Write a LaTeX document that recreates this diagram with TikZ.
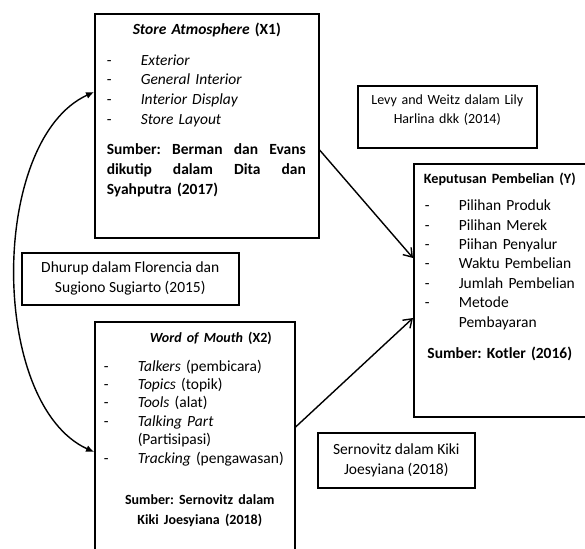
\documentclass[tikz,border=0pt]{standalone}
\usepackage{fontspec}
\setmainfont{Carlito}
\usetikzlibrary{positioning, arrows.meta}
\setlength{\parindent}{0pt}
\frenchspacing
\newcommand{\dashitem}[1]{\makebox[17pt][l]{-}\mbox{#1}\par}
\newcommand{\moreline}[1]{\hspace*{17pt}\mbox{#1}\par}
\newcommand{\boxtitle}[1]{\makebox[\hsize][c]{#1}\par}

\begin{document}
\begin{tikzpicture}[x=.5pt, y=-.5pt,
    box/.style={draw, line width=.8pt, anchor=north west, align=left, inner xsep=5.5pt, inner ysep=4.5pt, text height=6pt, font=\fontsize{7.75}{9.5}\selectfont},
    refbox/.style={draw, line width=.8pt, anchor=north west, align=center, font=\fontsize{7.75}{10}\selectfont},
    arr/.style={line width=.7pt, -{Straight Barb[length=4pt, width=5.5pt]}},
    twoway/.style={line width=.7pt, {Latex[length=4pt, width=3.5pt]}-{Latex[length=4pt, width=3.5pt]}}]

\useasboundingbox (0,0) rectangle (585,549);
\clip (0,0) rectangle (585,549);

% Store Atmosphere (X1)
\node[box, text width=100pt, minimum width=112pt, text depth=97pt, font=\fontsize{7.75}{9.8}\selectfont] (x1) at (94,13) {
    \boxtitle{\bfseries\itshape Store Atmosphere \upshape(X1)}
    \vspace{5.5pt}
    \dashitem{\textit{Exterior}}
    \dashitem{\textit{General Interior}}
    \dashitem{\textit{Interior Display}}
    \dashitem{\textit{Store Layout}}
    \vspace{5pt}
    {\bfseries\fontsize{7.75}{10}\selectfont
    \hbox to 99.5pt{Sumber:\hfill Berman\hfill dan\hfill Evans}
    \hbox to 99.5pt{dikutip\hfill dalam\hfill Dita\hfill dan}
    Syahputra (2017)\par}
};

% Word of Mouth (X2), runs off the bottom
\node[box, text width=91pt, minimum width=100pt, inner xsep=4.5pt, text depth=115pt, font=\fontsize{7.75}{9.2}\selectfont] (x2) at (94,321) {
    \boxtitle{\fontsize{7}{9.2}\selectfont\hspace*{16pt}\bfseries\itshape Word of Mouth \upshape(X2)}
    \vspace{5pt}
    \dashitem{\textit{Talkers} (pembicara)}
    \dashitem{\textit{Topics} (topik)}
    \dashitem{\textit{Tools} (alat)}
    \dashitem{\textit{Talking Part}}
    \moreline{(Partisipasi)}
    \dashitem{\textit{Tracking} (pengawasan)}
    \vspace{10.5pt}
    {\bfseries\fontsize{7}{10}\selectfont
    \boxtitle{\hspace*{5pt}Sumber: Sernovitz dalam}
    \boxtitle{\hspace*{5pt}Kiki Joesyiana (2018)}}
};

% Keputusan Pembelian (Y)
\node[box, text width=75pt, minimum width=85.5pt, inner ysep=4pt, text depth=112.5pt, font=\fontsize{7.75}{9.7}\selectfont] (y) at (413,163) {
    \boxtitle{\fontsize{7.1}{9.7}\selectfont\bfseries Keputusan Pembelian (Y)}
    \vspace{3.8pt}
    \dashitem{Pilihan Produk}
    \dashitem{Pilihan Merek}
    \dashitem{Piihan Penyalur}
    \dashitem{Waktu Pembelian}
    \dashitem{Jumlah Pembelian}
    \dashitem{Metode}
    \moreline{Pembayaran}
    \vspace{5.8pt}
    \boxtitle{\bfseries Sumber: Kotler (2016)}
};

% reference boxes
\node[box, align=center, text width=78.5pt, minimum width=89.5pt, inner ysep=4pt, text height=5.5pt, text depth=17.5pt, font=\fontsize{7}{9.5}\selectfont] (levy) at (357,85) {Levy and Weitz dalam Lily\\ Harlina dkk (2014)};
\node[refbox, minimum width=108.5pt, minimum height=26pt] (dhurup) at (21,252) {Dhurup dalam Florencia dan\\ Sugiono Sugiarto (2015)};
\node[refbox, minimum width=78.5pt, minimum height=27.5pt] (sern) at (317,432) {Sernovitz dalam Kiki\\ Joesyiana (2018)};

% arrows
\draw[arr] ([yshift=-68.5pt]x1.north east) -- ([yshift=-47.5pt]y.north west);
\draw[arr] ([yshift=-53pt]x2.north east) -- ([yshift=-77.5pt]y.north west);
\draw[twoway] ([yshift=-39.5pt]x1.north west) .. controls +(-52.5pt,-24pt) and +(-52.5pt,24pt) .. ([yshift=-65.5pt]x2.north west);

\end{tikzpicture}
\end{document}
